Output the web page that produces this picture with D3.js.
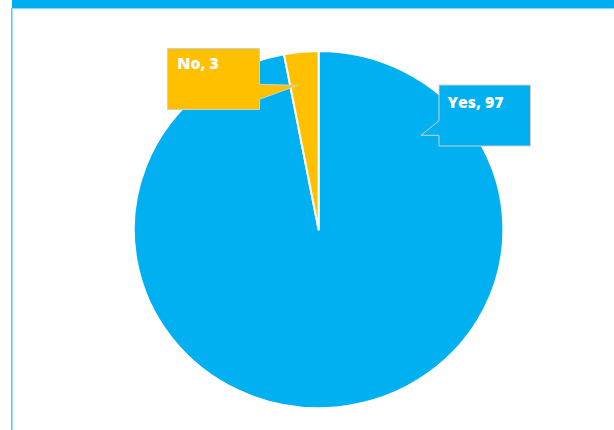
<!DOCTYPE html>
<html>
<head>
<meta charset="utf-8">
<script src="https://cdn.jsdelivr.net/npm/d3@7/dist/d3.min.js"></script>
<style>
  html, body { margin: 0; padding: 0; background: #ffffff; }
  svg { display: block; }
</style>
</head>
<body>
<svg id="chart" width="614" height="430"></svg>
<script>
// Survey answers
const categories = ["Yes", "No"];
const values = [97, 3];
const colors = ["#00B0F0", "#FFC000"];

const svg = d3.select("#chart");
const W = 614, H = 430;

// Frame: blue band along the top, thin rule down the left side
svg.append("rect").attr("x", 12).attr("y", 0).attr("width", W - 12).attr("height", 8.5)
  .attr("fill", "#00AEEF");
svg.append("line").attr("x1", 11.8).attr("x2", 11.8).attr("y1", 8).attr("y2", H)
  .attr("stroke", "#5CCBF5").attr("stroke-width", 1.6);
svg.append("line").attr("x1", 12).attr("x2", W).attr("y1", 9.3).attr("y2", 9.3)
  .attr("stroke", "#D6F1FC").attr("stroke-width", 0.8);

// Pie
const cx = 318.6, cy = 229.6, ry = 178.6, rx = 184.8;
const pie = d3.pie().sort(null).value(d => d)(values);
const arc = d3.arc().innerRadius(0).outerRadius(ry);

const g = svg.append("g")
  .attr("transform", `translate(${cx},${cy}) scale(${rx / ry},1)`);

g.selectAll("path.slice")
  .data(pie)
  .join("path")
  .attr("class", "slice")
  .attr("d", arc)
  .attr("fill", (d, i) => colors[i])
  .attr("stroke", "#ffffff")
  .attr("stroke-width", 2)
  .attr("stroke-linejoin", "round")
  .attr("vector-effect", "non-scaling-stroke");

// Callout labels with pointers
const callouts = [
  { i: 1, box: [167.5, 48.5, 92, 61], ptr: [[259.5, 84.3], [297.7, 85.3], [259.5, 99.3]], text: [177.3, 69] },
  { i: 0, box: [439, 85, 91.5, 61], ptr: [[439, 120.7], [421, 135.3], [439, 135.3]], text: [447.5, 107.5] }
];

callouts.forEach(c => {
  const [x, y, w, h] = c.box;
  const p = c.ptr;
  let d;
  if (p[0][0] >= x + w - 0.1) {
    // pointer on the right side
    d = `M${x},${y}H${x + w}V${p[0][1]}L${p[1][0]},${p[1][1]}L${p[2][0]},${p[2][1]}V${y + h}H${x}Z`;
  } else {
    // pointer on the left side
    d = `M${x},${y}H${x + w}V${y + h}H${x}V${p[2][1]}L${p[1][0]},${p[1][1]}L${p[0][0]},${p[0][1]}Z`;
  }
  svg.append("path")
    .attr("d", d)
    .attr("fill", colors[c.i])
    .attr("stroke", "#D0D0D0")
    .attr("stroke-width", 1);
  svg.append("text")
    .attr("x", c.text[0]).attr("y", c.text[1])
    .attr("fill", "#ffffff")
    .attr("font-family", "'Open Sans', 'Noto Sans', sans-serif")
    .attr("font-weight", 800)
    .attr("font-size", 15.8)
    .text(`${categories[c.i]}, ${values[c.i]}`);
});
</script>
</body>
</html>
